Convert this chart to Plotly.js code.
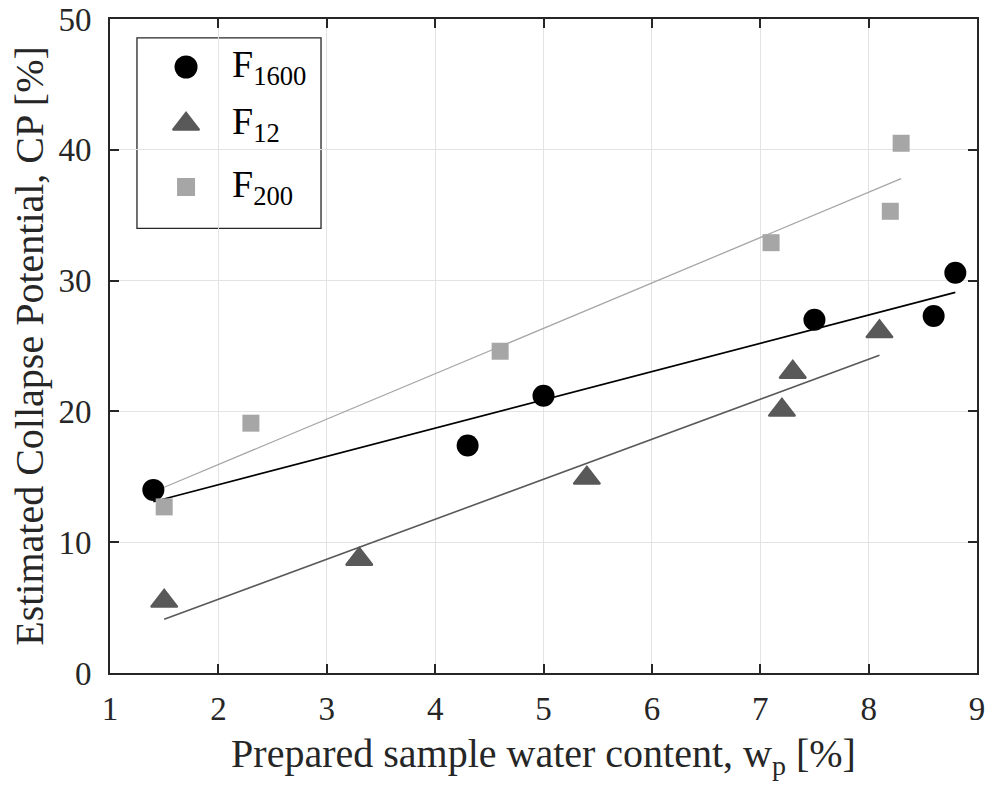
<!DOCTYPE html>
<html>
<head>
<meta charset="utf-8">
<script src="https://cdn.plot.ly/plotly-3.0.1.min.js"></script>
<style>html,body{margin:0;padding:0;background:#fff;}#chart{width:987px;height:796px;}</style>
</head>
<body>
<div id="chart"></div>
<script>
// Measured data
const f1600_x = [1.4, 4.3, 5.0, 7.5, 8.6, 8.8];
const f1600_y = [14.0, 17.4, 21.2, 27.0, 27.3, 30.6];
const f12_x = [1.5, 3.3, 5.4, 7.2, 7.3, 8.1];
const f12_y = [5.5, 8.7, 14.9, 20.1, 23.0, 26.1];
const f200_x = [1.5, 2.3, 4.6, 7.1, 8.2, 8.3];
const f200_y = [12.7, 19.1, 24.6, 32.9, 35.3, 40.5];
// Fit lines (endpoints)
const fit1600_x = [1.4, 8.8];
const fit1600_y = [13.1, 29.1];
const fit12_x = [1.5, 8.1];
const fit12_y = [4.1, 24.3];
const fit200_x = [1.5, 8.3];
const fit200_y = [14.2, 37.8];
const seriesNames = ['F<sub>1600</sub>', 'F<sub>12</sub>', 'F<sub>200</sub>'];
const xTicks = [1, 2, 3, 4, 5, 6, 7, 8, 9];
const yTicks = [0, 10, 20, 30, 40, 50];

const cBlack = '#000000', cDark = '#595959', cLight = '#a6a6a6';
const font = 'Liberation Serif, Times New Roman, serif';

// Custom legend layout (paper coordinates of the plot area)
const legBox = {x0: 0.0311, x1: 0.2434, y0: 0.680, y1: 0.971};
const legSymX = 0.0877, legTextX = 0.138;
const legRowsY = [0.9266, 0.8394, 0.7431];

const mk = [
  {symbol: 'circle', size: 22, color: cBlack},
  {symbol: 'triangle-up', size: 23, color: cDark, line: {color: cDark, width: 2}},
  {symbol: 'square', size: 17, color: cLight}
];

const traces = [
  {x: fit200_x, y: fit200_y, mode: 'lines', line: {color: cLight, width: 1.3}, showlegend: false, hoverinfo: 'skip'},
  {x: fit12_x, y: fit12_y, mode: 'lines', line: {color: cDark, width: 1.6}, showlegend: false, hoverinfo: 'skip'},
  {x: fit1600_x, y: fit1600_y, mode: 'lines', line: {color: cBlack, width: 1.6}, showlegend: false, hoverinfo: 'skip'},
  {x: f1600_x, y: f1600_y, mode: 'markers', name: seriesNames[0], marker: mk[0], showlegend: false},
  {x: f12_x, y: f12_y, mode: 'markers', name: seriesNames[1], marker: mk[1], showlegend: false},
  {x: f200_x, y: f200_y, mode: 'markers', name: seriesNames[2], marker: mk[2], showlegend: false}
];
// legend symbols on an overlay axis spanning the plot area in paper units
for (let i = 0; i < 3; i++) {
  const m = Object.assign({}, mk[i]);
  if (i === 0) m.size = 23;
  if (i === 2) m.size = 18;
  traces.push({x: [legSymX], y: [legRowsY[i]], xaxis: 'x2', yaxis: 'y2', mode: 'markers',
    marker: m, showlegend: false, hoverinfo: 'skip', cliponaxis: false});
}

const axisCommon = {
  showline: true, linecolor: '#262626', linewidth: 2, mirror: 'ticks',
  ticks: 'inside', ticklen: 9, tickwidth: 2, tickcolor: '#262626',
  showgrid: true, gridcolor: '#e3e3e3', gridwidth: 1, zeroline: false,
  tickfont: {family: font, size: 33, color: '#262626'}
};

const annotations = seriesNames.map((n, i) => ({
  xref: 'paper', yref: 'paper', x: legTextX, y: legRowsY[i],
  xanchor: 'left', yanchor: 'middle', showarrow: false, text: n,
  font: {family: font, size: 38, color: '#000000'}
}));

const layout = {
  width: 987, height: 796,
  margin: {l: 110, r: 10, t: 19, b: 123},
  paper_bgcolor: '#ffffff', plot_bgcolor: '#ffffff',
  font: {family: font, color: '#262626'},
  showlegend: false,
  xaxis: Object.assign({}, axisCommon, {
    range: [1, 9], tickvals: xTicks, ticktext: xTicks.map(String),
    ticklabelstandoff: 5,
    title: {text: 'Prepared sample water content, w<sub>p</sub> [%]', font: {family: font, size: 40, color: '#262626'}, standoff: 13}
  }),
  yaxis: Object.assign({}, axisCommon, {
    range: [0, 50], tickvals: yTicks, ticktext: yTicks.map(String),
    ticklabelstandoff: 10,
    title: {text: 'Estimated Collapse Potential, CP [%]', font: {family: font, size: 40, color: '#262626'}, standoff: 2}
  }),
  xaxis2: {domain: [0, 1], range: [0, 1], overlaying: 'x', anchor: 'y2', visible: false, fixedrange: true},
  yaxis2: {domain: [0, 1], range: [0, 1], overlaying: 'y', anchor: 'x2', visible: false, fixedrange: true},
  shapes: [{type: 'rect', xref: 'paper', yref: 'paper', x0: legBox.x0, x1: legBox.x1, y0: legBox.y0, y1: legBox.y1,
    line: {color: '#262626', width: 1.3}, fillcolor: '#ffffff', layer: 'between'}],
  annotations: annotations
};

Plotly.newPlot('chart', traces, layout, {displayModeBar: false, staticPlot: true});
</script>
</body>
</html>
